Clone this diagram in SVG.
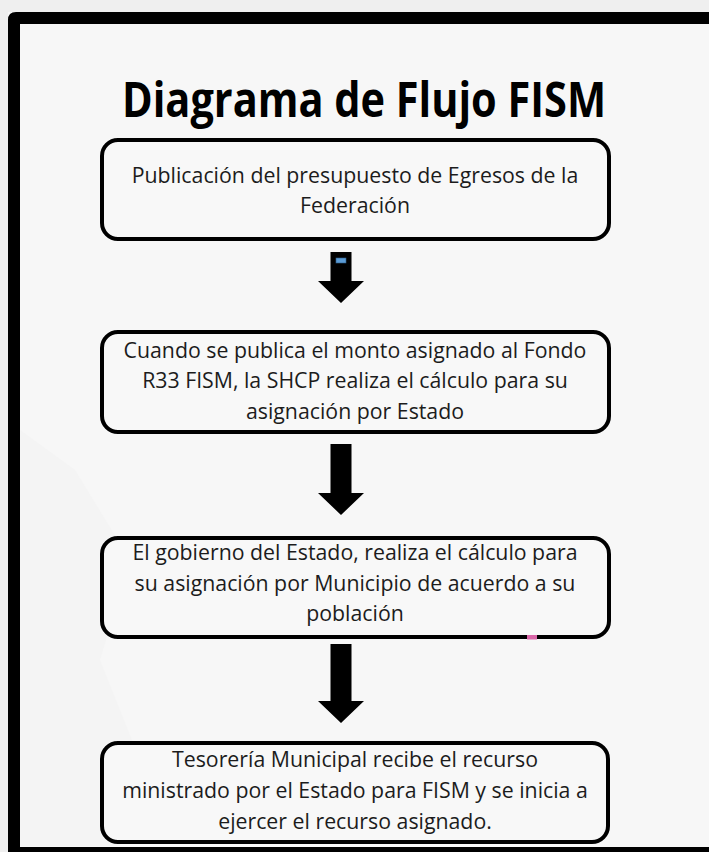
<svg xmlns="http://www.w3.org/2000/svg" width="709" height="852" viewBox="0 0 709 852">
<defs>
<style>
.bg{fill:#f7f7f7}
.node rect.box{fill:#f8f8f8;stroke:#000;stroke-width:4}
.t{font-family:"Open Sans","Liberation Sans",sans-serif;font-size:21.3px;fill:#1c1c1c;text-anchor:middle}
.title{font-family:"Open Sans","Liberation Sans",sans-serif;font-size:48px;font-weight:bold;fill:#000;text-anchor:middle}
.arrow{fill:#000}
</style>
</defs>
<rect x="0" y="0" width="709" height="852" fill="#efefef"/>
<rect class="bg" x="8" y="12" width="701" height="840"/>
<polygon points="20,430 75,470 130,560 100,660 140,760 120,846 20,846" fill="#f4f4f4"/>
<path d="M8,852 V20 Q8,12 16,12 H709 V24 H20 V852 Z" fill="#000"/>
<rect x="8" y="847" width="701" height="5" fill="#000"/>
<g id="title">
<text class="title" x="364" y="117" textLength="484" lengthAdjust="spacingAndGlyphs">Diagrama de Flujo FISM</text>
</g>
<g id="node1" class="node">
<rect class="box" x="102" y="140" width="507" height="99" rx="16"/>
<text class="t" x="355" y="183">Publicación del presupuesto de Egresos de la</text>
<text class="t" x="355" y="213">Federación</text>
</g>
<g id="node2" class="node">
<rect class="box" x="102" y="332" width="507" height="100" rx="16"/>
<text class="t" x="355" y="358">Cuando se publica el monto asignado al Fondo</text>
<text class="t" x="355" y="388">R33 FISM, la SHCP realiza el cálculo para su</text>
<text class="t" x="355" y="419">asignación por Estado</text>
</g>
<g id="node3" class="node">
<rect class="box" x="102" y="538" width="507" height="99" rx="16"/>
<text class="t" x="355" y="560">El gobierno del Estado, realiza el cálculo para</text>
<text class="t" x="355" y="591">su asignación por Municipio de acuerdo a su</text>
<text class="t" x="355" y="621">población</text>
<rect x="527" y="635" width="10" height="4.5" fill="#d966a8"/>
</g>
<g id="node4" class="node">
<rect class="box" x="102" y="743" width="506" height="99" rx="16"/>
<text class="t" x="355" y="767">Tesorería Municipal recibe el recurso</text>
<text class="t" x="355" y="798">ministrado por el Estado para FISM y se inicia a</text>
<text class="t" x="355" y="829">ejercer el recurso asignado.</text>
</g>
<g id="connectors">
<polygon class="arrow" points="330.5,252 351.5,252 351.5,281 364,281 341,303 318,281 330.5,281"/>
<rect x="336" y="258" width="10" height="5" fill="#5b9bd5" stroke="#2e5f8a" stroke-width="0.6"/>
<polygon class="arrow" points="330.5,444 351.5,444 351.5,493 364,493 341,515 318,493 330.5,493"/>
<polygon class="arrow" points="330.5,644 351.5,644 351.5,701 364,701 341,723 318,701 330.5,701"/>
</g>
</svg>
